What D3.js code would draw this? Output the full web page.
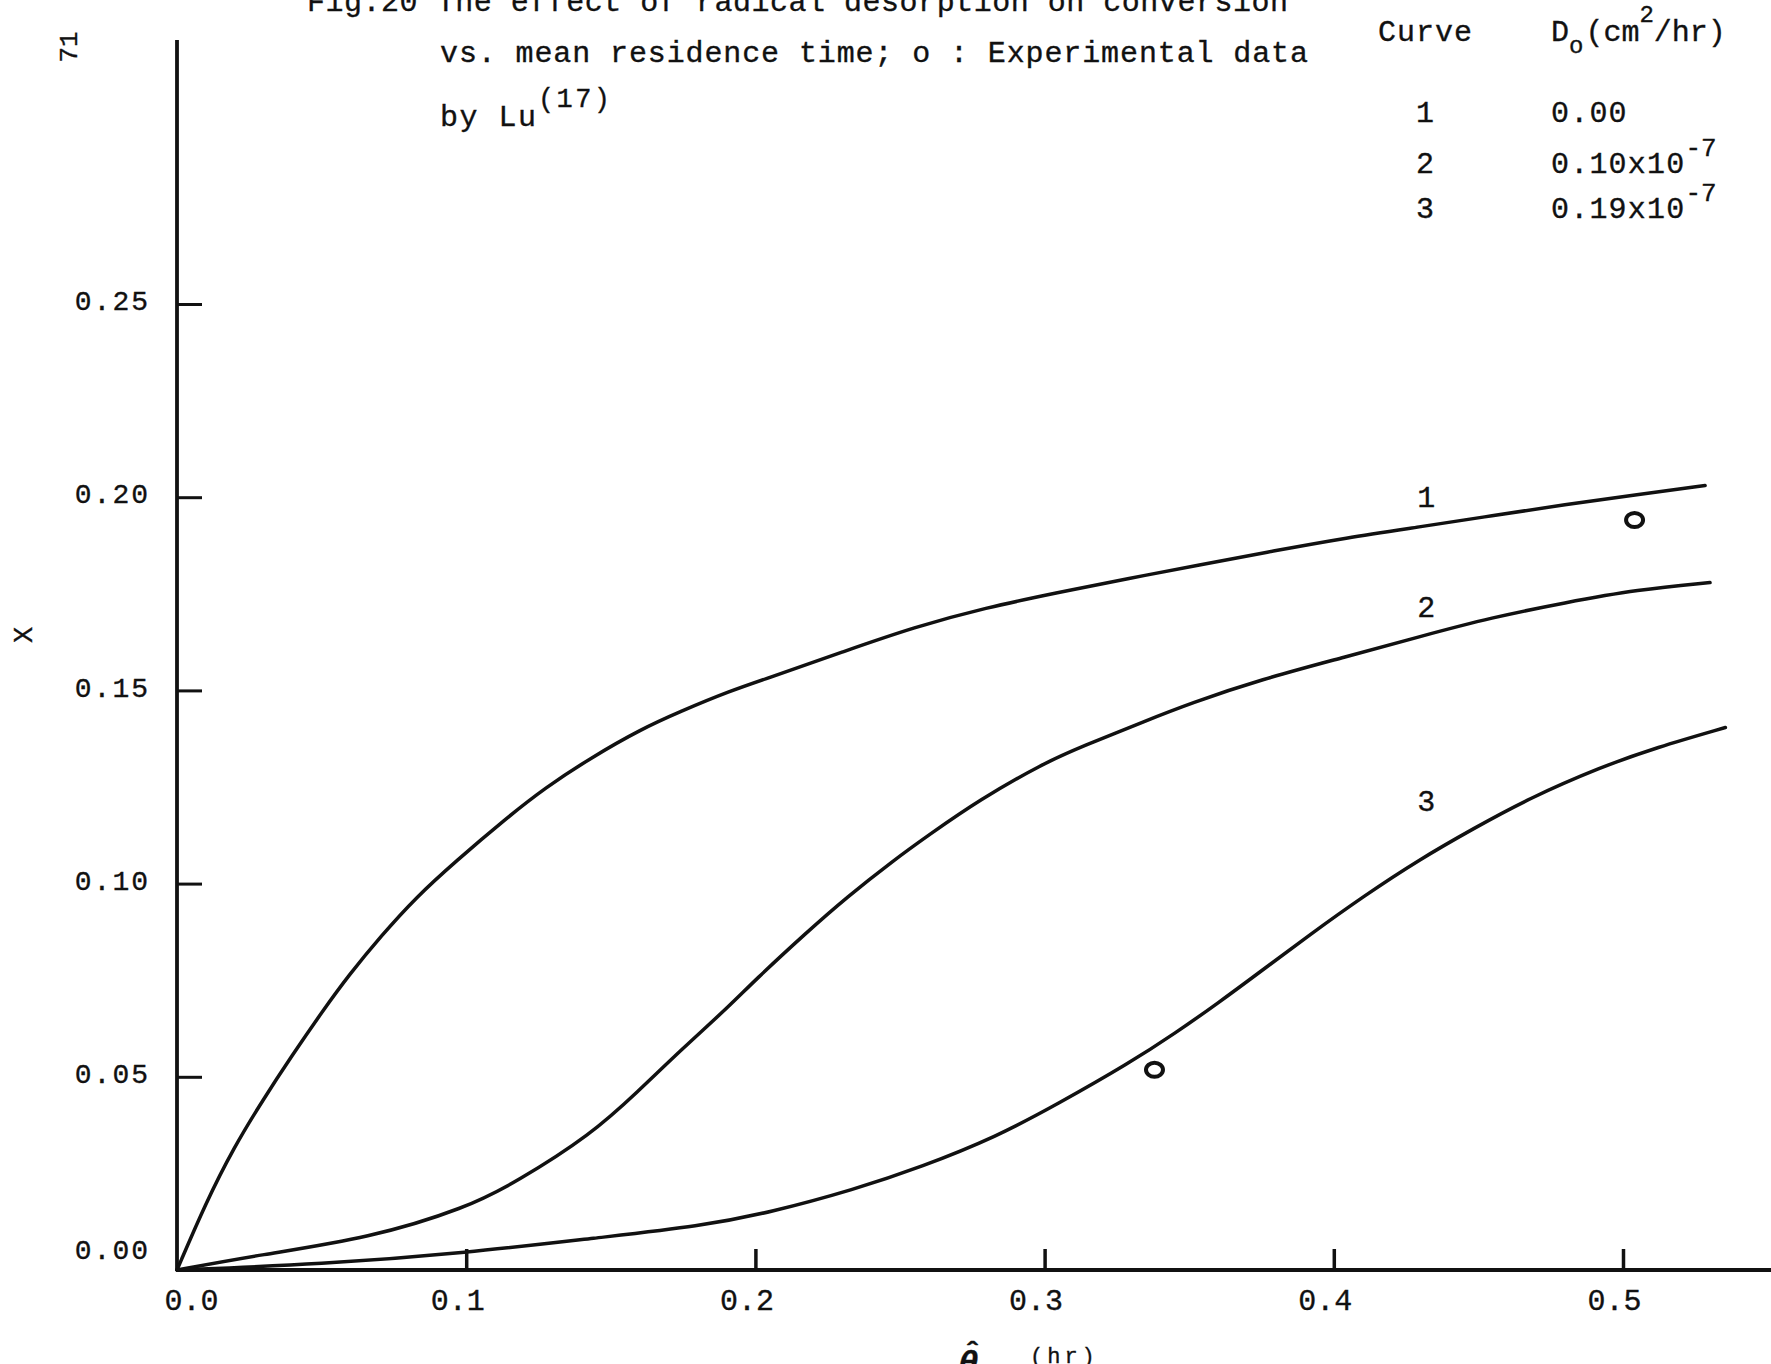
<!DOCTYPE html>
<html><head><meta charset="utf-8">
<script src="https://cdn.jsdelivr.net/npm/d3@7"></script>
<style>
html,body{margin:0;padding:0;background:#fff;}
svg{display:block;}
text{font-family:"Liberation Mono","DejaVu Sans Mono",monospace;fill:#111;stroke:#111;stroke-width:0.35px;}
</style></head><body>
<svg id="chart" width="1771" height="1364"></svg>
<script>
// ---- data ----
const theta1 = [0, 0.0099, 0.0197, 0.0297, 0.0394, 0.0507, 0.0594, 0.0705, 0.0827, 0.0964, 0.1137, 0.1273, 0.1432, 0.1605, 0.1742, 0.1909, 0.2056, 0.2303, 0.255, 0.2797, 0.3044, 0.3292, 0.3539, 0.3791, 0.4043, 0.4295, 0.4547, 0.4799, 0.5051, 0.5284];
const conv1  = [0, 0.0173, 0.0318, 0.044, 0.0551, 0.0674, 0.0763, 0.0864, 0.0965, 0.1058, 0.1168, 0.1248, 0.1326, 0.14, 0.1446, 0.1498, 0.1535, 0.16, 0.1664, 0.1714, 0.1753, 0.179, 0.1825, 0.1861, 0.1895, 0.1923, 0.1952, 0.1981, 0.2007, 0.203];
const theta2 = [0, 0.0285, 0.0668, 0.1001, 0.1174, 0.1433, 0.1594, 0.1742, 0.1913, 0.1994, 0.2179, 0.2315, 0.2476, 0.26, 0.2773, 0.2995, 0.313, 0.3352, 0.3502, 0.3746, 0.4043, 0.4295, 0.4547, 0.4799, 0.5051, 0.5301];
const conv2  = [0, 0.0039, 0.0083, 0.0161, 0.0228, 0.0351, 0.0462, 0.0569, 0.0685, 0.0747, 0.0875, 0.0964, 0.1059, 0.1126, 0.1216, 0.1311, 0.1355, 0.1422, 0.1466, 0.1528, 0.1587, 0.1639, 0.1689, 0.1727, 0.1761, 0.1779];
const theta3 = [0, 0.05, 0.1001, 0.1458, 0.1809, 0.2056, 0.234, 0.2575, 0.2834, 0.3044, 0.3292, 0.3452, 0.36, 0.3746, 0.3917, 0.4106, 0.4295, 0.4484, 0.4673, 0.4925, 0.5114, 0.5354];
const conv3  = [0, 0.0015, 0.0044, 0.0084, 0.0113, 0.015, 0.0208, 0.0267, 0.0345, 0.0429, 0.0535, 0.0613, 0.0691, 0.0772, 0.0868, 0.0969, 0.1062, 0.1143, 0.1220, 0.1302, 0.1352, 0.1404];
const expTheta = [0.338, 0.504];
const expConv  = [0.0518, 0.1941];
const curveNames = ["1", "2", "3"];
const labelTheta = [0.432, 0.432, 0.432];
const labelConv  = [0.2003, 0.1716, 0.1216];
const xTicks = [0, 0.1, 0.2, 0.3, 0.4, 0.5];
const xTickLabels = ["0.0", "0.1", "0.2", "0.3", "0.4", "0.5"];
const yTicks = [0, 0.05, 0.10, 0.15, 0.20, 0.25];
const yTickLabels = ["0.00", "0.05", "0.10", "0.15", "0.20", "0.25"];
const titleLines = ["Fig.20 The effect of radical desorption on conversion",
                    "vs. mean residence time; o : Experimental data"];
const legendCurve = ["1", "2", "3"];
const legendD = ["0.00", "0.10x10", "0.19x10"];
const legendExp = ["", "-7", "-7"];

// ---- drawing ----
const svg = d3.select("#chart");
const x = d3.scaleLinear().domain([0, 0.5]).range([177, 1623]);
const y = d3.scaleLinear().domain([0, 0.25]).range([1270, 304]);
const ink = "#111";

// axes lines
svg.append("line").attr("x1", x(0)).attr("x2", x(0)).attr("y1", 40).attr("y2", y(0) + 1)
  .attr("stroke", ink).attr("stroke-width", 3.8);
svg.append("line").attr("x1", x(0) - 1).attr("x2", 1771).attr("y1", y(0)).attr("y2", y(0))
  .attr("stroke", ink).attr("stroke-width", 3.8);

// y axis
const yAxis = d3.axisLeft(y).tickValues(yTicks)
  .tickFormat((d, i) => yTickLabels[i]).tickSizeInner(-25).tickSizeOuter(0).tickPadding(27);
const gy = svg.append("g").attr("transform", `translate(${x(0)},0)`).call(yAxis);
gy.select(".domain").remove();
gy.selectAll(".tick line").attr("stroke", ink).attr("stroke-width", 3);
gy.selectAll(".tick text").attr("font-size", 28).attr("letter-spacing", 2)
  .attr("font-family", "Liberation Mono").attr("fill", ink)
  .attr("dy", d => d === 0 ? "-0.4em" : "0.2em");

// x axis
const xAxis = d3.axisBottom(x).tickValues(xTicks)
  .tickFormat((d, i) => xTickLabels[i]).tickSizeInner(-21).tickSizeOuter(0).tickPadding(19);
const gx = svg.append("g").attr("transform", `translate(0,${y(0)})`).call(xAxis);
gx.select(".domain").remove();
gx.selectAll(".tick line").attr("stroke", ink).attr("stroke-width", 3.5);
gx.selectAll(".tick text").attr("font-size", 30).attr("font-family", "Liberation Mono")
  .attr("fill", ink).attr("dx", d => d === 0 ? 14 : -9);
gx.selectAll(".tick").filter(d => d === 0).select("line").remove();

// curves
const line = d3.line().x(d => x(d[0])).y(d => y(d[1])).curve(d3.curveBasis);
const series = [d3.zip(theta1, conv1), d3.zip(theta2, conv2), d3.zip(theta3, conv3)];
svg.selectAll("path.curve").data(series).join("path").attr("class", "curve")
  .attr("d", line).attr("fill", "none").attr("stroke", ink)
  .attr("stroke-width", 3.5).attr("stroke-linecap", "round").attr("stroke-linejoin", "round");

// curve labels
svg.selectAll("text.clabel").data(curveNames).join("text").attr("class", "clabel")
  .attr("x", (d, i) => x(labelTheta[i])).attr("y", (d, i) => y(labelConv[i]))
  .attr("dy", "0.35em").attr("text-anchor", "middle").attr("font-size", 30).text(d => d);

// experimental points
svg.selectAll("ellipse.exp").data(d3.zip(expTheta, expConv)).join("ellipse").attr("class", "exp")
  .attr("cx", d => x(d[0])).attr("cy", d => y(d[1])).attr("rx", 8.5).attr("ry", 7)
  .attr("fill", "none").attr("stroke", ink).attr("stroke-width", 4);

// titles
svg.append("text").attr("x", 307).attr("y", 11).attr("font-size", 30)
  .attr("textLength", 981).attr("lengthAdjust", "spacing").text(titleLines[0]);
svg.append("text").attr("x", 440).attr("y", 62).attr("font-size", 30)
  .attr("textLength", 868).attr("lengthAdjust", "spacing").text(titleLines[1]);
svg.append("text").attr("x", 440).attr("y", 126).attr("font-size", 30)
  .attr("textLength", 96).attr("lengthAdjust", "spacing").text("by Lu");
svg.append("text").attr("x", 538).attr("y", 107).attr("font-size", 27)
  .attr("textLength", 72).attr("lengthAdjust", "spacing").text("(17)");

// page number & y label
svg.append("text").attr("transform", "translate(68,47) rotate(-90)")
  .attr("text-anchor", "middle").attr("dy", "0.35em").attr("font-size", 26).text("71");
svg.append("text").attr("transform", "translate(23,635) rotate(-90)")
  .attr("text-anchor", "middle").attr("dy", "0.35em").attr("font-size", 27).text("X");

// x label (cut by page bottom): theta with a hat, then (hr)
const xt = svg.append("text").attr("x", 958).attr("y", 1374).attr("font-size", 34)
  .attr("font-family", "Liberation Serif").attr("font-weight", "bold").attr("font-style", "italic");
xt.append("tspan").text("\u03B8");
xt.append("tspan").attr("dx", -15).attr("dy", -12).attr("font-style", "normal").attr("font-size", 30).text("\u02C6");
svg.append("text").attr("x", 1030).attr("y", 1363).attr("font-size", 22)
  .attr("letter-spacing", 4).text("(hr)");

// legend
svg.append("text").attr("x", 1378).attr("y", 41).attr("font-size", 30)
  .attr("textLength", 94).attr("lengthAdjust", "spacing").text("Curve");
const dh = svg.append("text").attr("x", 1551).attr("y", 41).attr("font-size", 30);
dh.append("tspan").text("D");
dh.append("tspan").attr("dy", 12).attr("font-size", 24).text("o");
dh.append("tspan").attr("dy", -12).attr("dx", 2).text("(cm");
dh.append("tspan").attr("dy", -19).attr("font-size", 24).text("2");
dh.append("tspan").attr("dy", 19).text("/hr)");
const rowY = [122, 173, 218];
legendCurve.forEach((c, i) => {
  svg.append("text").attr("x", 1425).attr("y", rowY[i]).attr("text-anchor", "middle")
    .attr("font-size", 30).text(c);
  const t = svg.append("text").attr("x", 1551).attr("y", rowY[i]).attr("font-size", 30);
  t.append("tspan").attr("letter-spacing", 1.2).text(legendD[i]);
  if (legendExp[i]) t.append("tspan").attr("dy", -17).attr("dx", 0).attr("font-size", 26).text(legendExp[i]);
});
</script></body></html>
